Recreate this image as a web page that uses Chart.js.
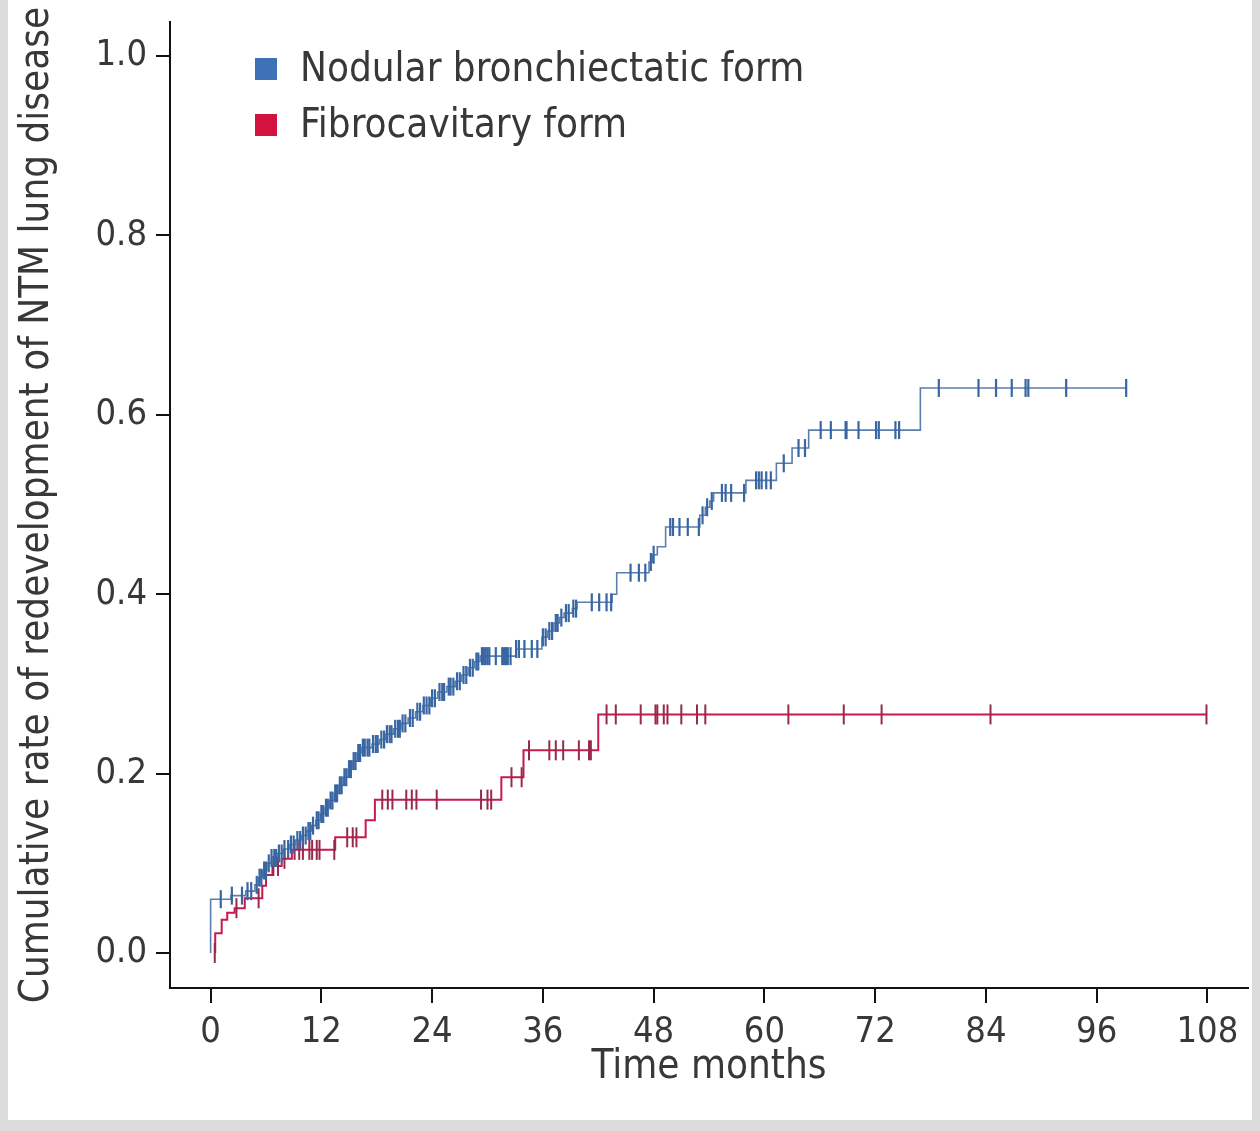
<!DOCTYPE html>
<html>
<head>
<meta charset="utf-8">
<title>Cumulative rate of redevelopment of NTM lung disease</title>
<script src="https://cdn.jsdelivr.net/npm/chart.js@4.4.1/dist/chart.umd.min.js"></script>
<style>
  html, body { margin: 0; padding: 0; background: #dcdcdc; overflow: hidden; }
  #sheet { position: absolute; left: 8px; top: 0; width: 1244px; height: 1120px; background: #ffffff; }
  #box { position: absolute; left: 0; top: 0; width: 1260px; height: 1131px; }
</style>
</head>
<body>
<div id="sheet"></div>
<div id="box"><canvas id="km"></canvas></div>
<script>
// Axis ticks
const monthTicks = [0, 12, 24, 36, 48, 60, 72, 84, 96, 108];
const rateTicks = [0.0, 0.2, 0.4, 0.6, 0.8, 1.0];
const seriesNames = ['Nodular bronchiectatic form', 'Fibrocavitary form'];

// Nodular bronchiectatic form: event times (months) and cumulative rate after each event
const nbTimes = [0, 0, 2.2, 3.8, 4.8, 5.2, 5.6, 6.1, 6.6, 7.2, 7.9, 8.6, 9.2, 9.8, 10.4, 10.9, 11.4, 11.9,
  12.4, 12.9, 13.4, 13.9, 14.4, 14.9, 15.4, 15.9, 16.4, 17.5, 18.3, 19.0, 19.8, 20.6, 21.4, 22.2, 23.0,
  23.8, 24.6, 25.6, 26.5, 27.2, 27.9, 28.6, 29.2, 33.1, 35.9, 36.5, 37.2, 37.8, 38.3, 39.2, 39.7, 43.5,
  44.0, 47.5, 47.9, 48.4, 49.3, 53.0, 53.6, 54.1, 54.5, 58.0, 61.3, 63.0, 64.8, 76.9];
const nbRates = [0, 0.060, 0.064, 0.069, 0.076, 0.084, 0.092, 0.100, 0.106, 0.111, 0.116, 0.121, 0.126, 0.131, 0.136, 0.142, 0.148, 0.155,
  0.162, 0.170, 0.178, 0.187, 0.196, 0.205, 0.214, 0.223, 0.229, 0.233, 0.238, 0.244, 0.250, 0.256, 0.262, 0.269, 0.276,
  0.284, 0.291, 0.297, 0.303, 0.310, 0.318, 0.325, 0.331, 0.339, 0.352, 0.359, 0.368, 0.374, 0.379, 0.384, 0.391, 0.400,
  0.424, 0.436, 0.444, 0.453, 0.475, 0.488, 0.497, 0.504, 0.513, 0.527, 0.546, 0.563, 0.583, 0.630];
// Censored observations (months)
const nbCensored = [1.1, 2.3, 3.4, 4.0, 4.4,
  5.0, 5.3, 5.5, 5.8, 6.0, 6.3, 6.6, 6.9, 7.1, 7.4, 7.7, 8.0, 8.4, 8.7, 9.0, 9.4, 9.7, 10.0, 10.3, 10.6, 10.8,
  11.1, 11.5, 11.7, 12.0, 12.2, 12.5, 12.7, 13.0, 13.2, 13.5, 13.7, 14.0, 14.2, 14.5, 14.7, 15.0, 15.2, 15.5,
  15.7, 16.0, 16.2, 16.5, 16.7, 17.0, 17.2, 17.6, 17.9, 18.1, 18.5, 18.8, 19.1, 19.4, 19.6, 20.0, 20.3, 20.5,
  20.8, 21.1, 21.6, 21.9, 22.4, 22.7, 23.1, 23.4, 23.7, 24.0, 24.3, 24.8, 25.1, 25.3, 25.8, 26.0, 26.3, 26.7,
  27.0, 27.4, 27.7, 28.1, 28.4, 28.8, 29.0, 29.4, 29.6, 29.8, 30.0, 30.2, 30.9, 31.6, 31.8, 32.0, 32.2, 32.5,
  33.1, 33.4, 34.0, 34.8, 35.4, 36.0, 36.3, 36.7, 37.0, 37.4, 37.6, 38.0, 38.5, 38.8, 39.3, 39.6, 41.3, 42.1,
  42.9, 43.4, 45.5, 46.4, 47.1, 47.7, 48.0, 49.8, 50.1, 50.8, 51.7, 52.9, 53.3, 53.8, 54.3, 55.4, 55.8, 56.4,
  57.8, 59.1, 59.4, 59.7, 60.2, 60.7, 62.1, 63.7, 64.4, 66.1, 67.2, 68.8, 68.9, 70.2, 72.1, 72.4, 74.2, 74.6,
  78.9, 83.2, 85.1, 86.8, 88.3, 88.6, 92.7, 99.2];

// Fibrocavitary form
const fcTimes = [0.5, 0.5, 1.2, 1.8, 2.6, 3.7, 5.6, 6.0, 6.7, 7.7, 8.8, 13.5, 16.8, 17.8, 31.5, 33.9, 42.0];
const fcRates = [0, 0.022, 0.037, 0.045, 0.050, 0.061, 0.075, 0.087, 0.097, 0.105, 0.115, 0.129, 0.148, 0.171, 0.196, 0.226, 0.266];
const fcCensored = [0.45, 2.8, 5.2, 6.8, 7.3, 8.0, 9.1, 9.6, 10.0, 10.7, 11.0, 11.5, 11.8, 13.4, 14.8, 15.4, 15.8,
  18.6, 19.2, 19.7, 21.2, 21.8, 22.3, 24.5, 29.3, 30.0, 30.4, 32.6, 33.7, 34.5, 36.7, 37.4, 38.2, 39.9, 41.0,
  41.2, 42.9, 43.9, 46.6, 48.2, 48.4, 49.1, 49.5, 51.0, 52.7, 53.6, 62.6, 68.6, 72.7, 84.5, 107.9];

const FONT = "'DejaVu Sans Condensed', 'Liberation Sans Narrow', 'DejaVu Sans', sans-serif";
const TEXT = '#383838';
const COLORS = {
  nb: { line: '#5b7eac', tick: '#3866a3', key: '#3d72b6' },
  fc: { line: '#c8194b', tick: '#972a4a', key: '#d3123d' }
};

// Step curve points: each rate holds from its event time until the next event
function curve(times, rates, censored) {
  const pts = times.map((t, i) => ({ x: t, y: rates[i] }));
  const end = Math.max(...censored);
  pts.push({ x: end, y: rates[rates.length - 1] });
  return pts;
}
// Censor marks sit on the curve level in force at their time
function marks(times, rates, censored) {
  return censored.map(c => {
    let v = 0;
    for (let i = 0; i < times.length; i++) if (times[i] <= c) v = rates[i];
    return { x: c, y: v };
  });
}

const legendInside = {
  id: 'legendInside',
  afterDraw(chart) {
    const ctx = chart.ctx;
    const keys = [COLORS.nb.key, COLORS.fc.key];
    ctx.save();
    ctx.font = '40px ' + FONT;
    ctx.textBaseline = 'middle';
    ctx.textAlign = 'left';
    seriesNames.forEach((name, i) => {
      const y = 69 + i * 56;
      ctx.fillStyle = keys[i];
      ctx.fillRect(255, y - 11, 22, 22);
      ctx.fillStyle = TEXT;
      ctx.fillText(name, 300, y + 2);
    });
    ctx.restore();
  }
};

new Chart(document.getElementById('km'), {
  type: 'line',
  data: {
    datasets: [
      { label: seriesNames[0] + ' censored', type: 'scatter', data: marks(nbTimes, nbRates, nbCensored),
        pointStyle: 'line', rotation: 90, pointRadius: 9, pointBorderWidth: 2.2,
        pointBorderColor: COLORS.nb.tick, pointBackgroundColor: COLORS.nb.tick, showLine: false },
      { label: seriesNames[0], data: curve(nbTimes, nbRates, nbCensored), stepped: true,
        borderColor: COLORS.nb.line, borderWidth: 1.6, pointRadius: 0, fill: false },
      { label: seriesNames[1] + ' censored', type: 'scatter', data: marks(fcTimes, fcRates, fcCensored),
        pointStyle: 'line', rotation: 90, pointRadius: 10, pointBorderWidth: 2,
        pointBorderColor: COLORS.fc.tick, pointBackgroundColor: COLORS.fc.tick, showLine: false },
      { label: seriesNames[1], data: curve(fcTimes, fcRates, fcCensored), stepped: true,
        borderColor: COLORS.fc.line, borderWidth: 2, pointRadius: 0, fill: false }
    ]
  },
  options: {
    responsive: true,
    maintainAspectRatio: false,
    animation: false,
    parsing: false,
    layout: { padding: { left: 8, top: 22, right: 10, bottom: 11 } },
    plugins: { legend: { display: false }, tooltip: { enabled: false } },
    scales: {
      x: {
        type: 'linear', min: -4.4, max: 112.4,
        afterBuildTicks: s => { s.ticks = monthTicks.map(v => ({ value: v })); },
        afterFit: s => { s.height = 132; s.paddingLeft = 0; s.paddingRight = 0; },
        grid: { drawOnChartArea: false, drawTicks: true, tickLength: 15, color: '#111', lineWidth: 2 },
        border: { display: true, color: '#111', width: 2 },
        ticks: { color: TEXT, font: { family: FONT, size: 36 }, padding: 8, maxRotation: 0, autoSkip: false },
        title: { display: true, text: 'Time months', color: TEXT, font: { family: FONT, size: 40 }, padding: { top: 0, bottom: 28 } }
      },
      y: {
        type: 'linear', min: -0.039, max: 1.038,
        afterBuildTicks: s => { s.ticks = rateTicks.map(v => ({ value: v })); },
        afterFit: s => { s.width = 162; s.paddingTop = 0; s.paddingBottom = 0; },
        grid: { drawOnChartArea: false, drawTicks: true, tickLength: 14, color: '#111', lineWidth: 2 },
        border: { display: true, color: '#111', width: 2 },
        ticks: { color: TEXT, font: { family: FONT, size: 36 }, padding: 9, callback: v => v.toFixed(1) },
        title: { display: true, text: 'Cumulative rate of redevelopment of NTM lung disease', color: TEXT,
          font: { family: FONT, size: 40 }, padding: { top: 6, bottom: 0 } }
      }
    }
  },
  plugins: [legendInside]
});
</script>
</body>
</html>
